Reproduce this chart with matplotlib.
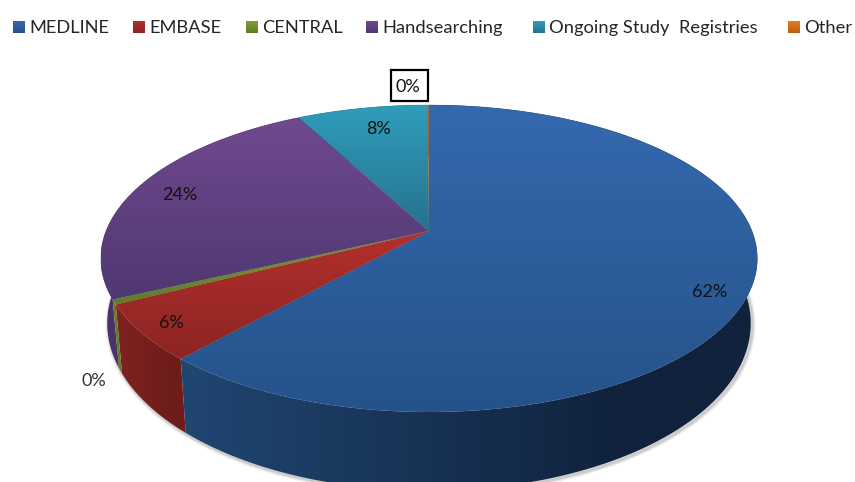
import numpy as np
import matplotlib
matplotlib.use('Agg')
import matplotlib.pyplot as plt
from matplotlib.colors import LinearSegmentedColormap
from matplotlib.patches import Polygon, Rectangle

plt.rcParams['font.family'] = ['Lato', 'DejaVu Sans']

categories = ['MEDLINE', 'EMBASE', 'CENTRAL', 'Handsearching', 'Ongoing Study  Registries', 'Other']
values = [61.6, 5.9, 0.49, 24.26, 7.7, 0.05]

top_light = ['#3569ae', '#b3302d', '#7f9f34', '#70498f', '#2f9dbb', '#e67a22']
top_dark = ['#25528a', '#8c2422', '#5f7c26', '#4f3871', '#26728e', '#b85f16']
wall_left = ['#204672', '#7f2320', '#5f7c26', '#4a3268', '#1d5a70', '#90490f']
wall_right = ['#10223c', '#6e1d1b', '#5f7c26', '#4a3268', '#1d5a70', '#90490f']

legend_swatch_x = [13, 133, 246, 366, 533, 788]
label_pos = [(710, 292), (171, 323), (94, 381), (180, 195), (378, 129), (408, 87)]

# pixel model of the tilted pie
cx, cy = 429, 231
R, a, c = 323, 148.6, -0.179
sx, ky, dy = 0.98, 1.09, 62.4


def top_rim(t):
    u, v = np.sin(t), -np.cos(t)
    w = 1 + c * v
    return cx + R * u / w, cy + a * v / w


def bottom_rim(t):
    x, y = top_rim(t)
    return cx + sx * (x - cx), cy + ky * (y - cy) + dy


def gradient(ax, extent, c1, c2, horizontal=False, clip=None, zorder=1, speed=1.0):
    cmap = LinearSegmentedColormap.from_list('g', [c1, c2])
    ramp = np.clip(np.linspace(0, 1, 256) * speed, 0, 1)
    ramp = ramp.reshape(1, -1) if horizontal else ramp.reshape(-1, 1)
    im = ax.imshow(ramp, cmap=cmap, extent=extent, aspect='auto', origin='upper',
                   zorder=zorder, interpolation='bilinear', vmin=0, vmax=1)
    if clip is not None:
        ax.add_patch(clip)
        clip.set_visible(False)
        im.set_clip_path(clip)
    return im


fig = plt.figure(figsize=(8.55, 4.82), dpi=100)
ax = fig.add_axes([0, 0, 1, 1])

edges = np.cumsum([0] + values) / sum(values) * 2 * np.pi
starts, ends = edges[:-1], edges[1:]

# soft shadow under the wall
t_front = np.linspace(np.pi * 0.46, np.pi * 1.52, 300)
bx, by = bottom_rim(t_front)
for lw, alpha in [(5, 0.07), (3.5, 0.1), (2, 0.16)]:
    ax.plot(bx + 1.5, by + 1.5, color='#555555', lw=lw, alpha=alpha, zorder=1,
            solid_capstyle='round')

# side walls, back slices first so the front ones sit on top
for i in [3, 4, 5, 0, 1, 2]:
    t = np.linspace(starts[i], ends[i], 200)
    tx, ty = top_rim(t)
    bx, by = bottom_rim(t)
    pts = np.column_stack([np.r_[tx, bx[::-1]], np.r_[ty, by[::-1]]])
    clip = Polygon(pts, closed=True, transform=ax.transData)
    ext = (pts[:, 0].min(), pts[:, 0].max(), pts[:, 1].max(), pts[:, 1].min())
    gradient(ax, ext, wall_left[i], wall_right[i], horizontal=True, clip=clip, zorder=2, speed=1.3)

# top faces
for i in range(len(values)):
    t = np.linspace(starts[i], ends[i], 300)
    tx, ty = top_rim(t)
    pts = np.column_stack([np.r_[cx, tx], np.r_[cy, ty]])
    clip = Polygon(pts, closed=True, transform=ax.transData)
    ext = (pts[:, 0].min(), pts[:, 0].max(), pts[:, 1].max(), pts[:, 1].min())
    gradient(ax, ext, top_light[i], top_dark[i], clip=clip, zorder=3)
    ax.add_patch(Polygon(pts, closed=True, fill=False, edgecolor=top_dark[i], lw=0.4,
                         alpha=0.35, zorder=4))

# percent labels
for i, (x, y) in enumerate(label_pos):
    ax.text(x, y, f'{round(values[i])}%', fontsize=13, color='#111111' if i != 2 else '#333333',
            ha='center', va='center', zorder=6)
ax.add_patch(Rectangle((391, 70), 37, 31, fill=False, edgecolor='black', lw=1.6, zorder=6))

# legend
for i, name in enumerate(categories):
    x0 = legend_swatch_x[i]
    gradient(ax, (x0, x0 + 11.5, 33.5, 22), top_light[i], top_dark[i], zorder=5)
    ax.text(x0 + 16, 28, name, fontsize=13.2, color='#262626', ha='left', va='center', zorder=6)

ax.set_xlim(0, 855)
ax.set_ylim(482, 0)
ax.axis('off')

plt.savefig('out.png', dpi=100)
